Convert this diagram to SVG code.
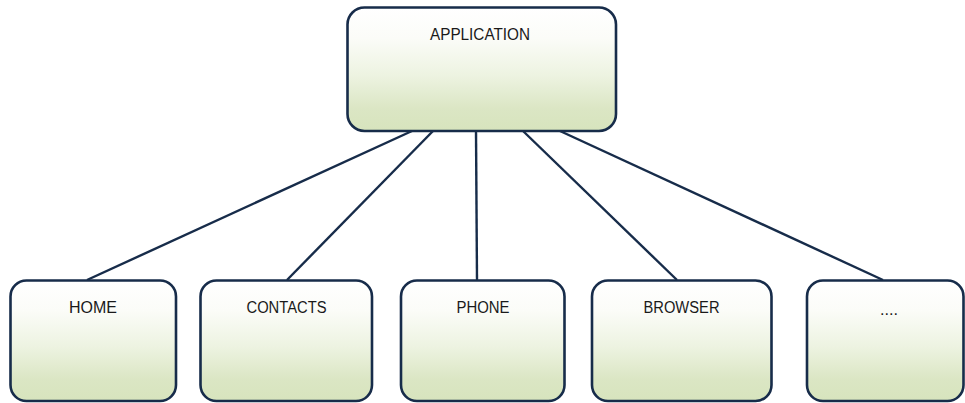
<svg xmlns="http://www.w3.org/2000/svg" width="965" height="403" viewBox="0 0 965 403">
  <defs>
    <linearGradient id="boxfill" x1="0" y1="0" x2="0" y2="1">
      <stop offset="0" stop-color="#ffffff"/>
      <stop offset="0.25" stop-color="#fbfcf8"/>
      <stop offset="0.55" stop-color="#edf3e1"/>
      <stop offset="0.82" stop-color="#dbe6c4"/>
      <stop offset="1" stop-color="#d7e4bd"/>
    </linearGradient>
  </defs>
  <style>
    .box { fill: url(#boxfill); stroke: #172c4a; stroke-width: 2.6; }
    .lbl { font-family: "Liberation Sans", Arial, sans-serif; font-size: 16px; fill: #1a1a1a; text-anchor: middle; }
    .conn { stroke: #172c4a; stroke-width: 2.4; fill: none; }
  </style>
  <rect width="965" height="403" fill="#ffffff"/>
  <g id="connectors">
    <line class="conn" x1="412" y1="131" x2="87" y2="280"/>
    <line class="conn" x1="433" y1="131" x2="287" y2="280"/>
    <line class="conn" x1="476" y1="131" x2="477" y2="280"/>
    <line class="conn" x1="523" y1="131" x2="677" y2="280"/>
    <line class="conn" x1="560" y1="131" x2="883" y2="280"/>
  </g>
  <g id="application">
    <rect class="box" x="347.5" y="7.5" width="268.5" height="123.5" rx="17" ry="17"/>
    <text class="lbl" x="480" y="40" textLength="100" lengthAdjust="spacingAndGlyphs">APPLICATION</text>
  </g>
  <g id="home">
    <rect class="box" x="10.5" y="280.5" width="165.5" height="120.5" rx="16" ry="16"/>
    <text class="lbl" x="93" y="313" textLength="48" lengthAdjust="spacingAndGlyphs">HOME</text>
  </g>
  <g id="contacts">
    <rect class="box" x="200.5" y="280.5" width="171.5" height="120.5" rx="16" ry="16"/>
    <text class="lbl" x="286.5" y="313" textLength="80" lengthAdjust="spacingAndGlyphs">CONTACTS</text>
  </g>
  <g id="phone">
    <rect class="box" x="401" y="280.5" width="163.5" height="120.5" rx="16" ry="16"/>
    <text class="lbl" x="483" y="313" textLength="53" lengthAdjust="spacingAndGlyphs">PHONE</text>
  </g>
  <g id="browser">
    <rect class="box" x="592" y="280.5" width="179.5" height="120.5" rx="16" ry="16"/>
    <text class="lbl" x="681.5" y="313" textLength="76" lengthAdjust="spacingAndGlyphs">BROWSER</text>
  </g>
  <g id="more">
    <rect class="box" x="807" y="280.5" width="156.5" height="120.5" rx="16" ry="16"/>
    <text class="lbl" x="889" y="315" textLength="18" lengthAdjust="spacingAndGlyphs">....</text>
  </g>
</svg>
